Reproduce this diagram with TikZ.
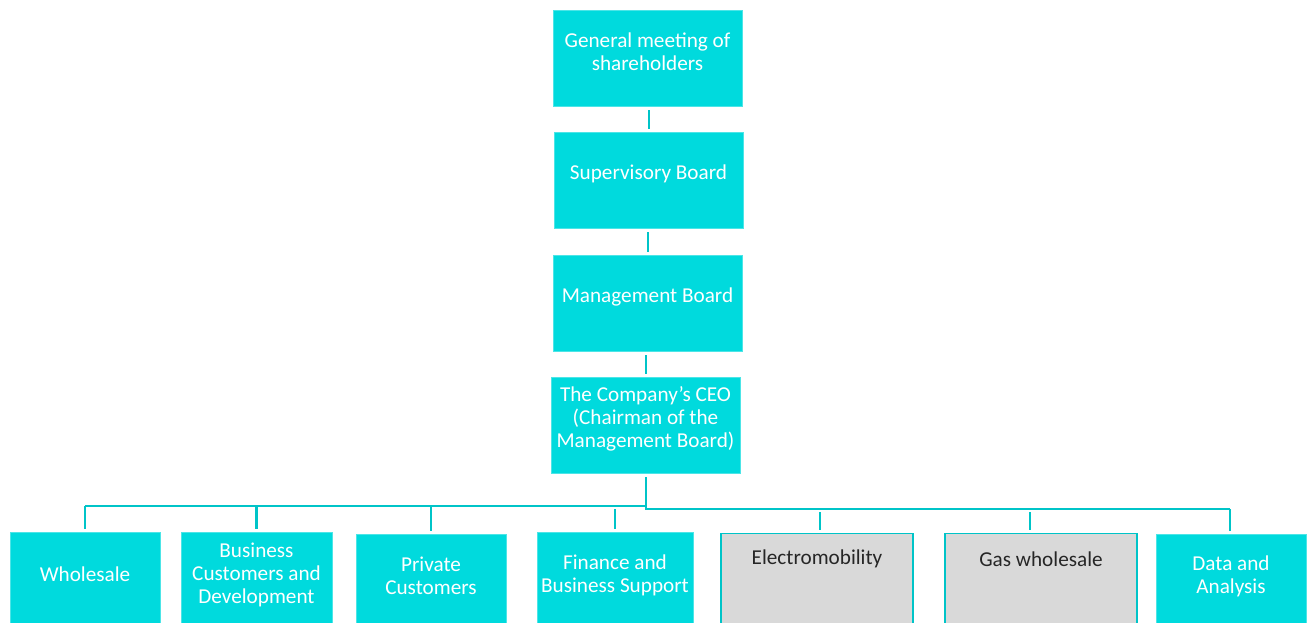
\documentclass[tikz,border=0pt]{standalone}
\usepackage{fontspec}
\setmainfont{Carlito}
\definecolor{cbox}{RGB}{0,218,221}
\definecolor{cline}{RGB}{0,196,200}
\definecolor{gbox}{RGB}{217,217,217}
\definecolor{gtext}{RGB}{38,38,38}
\tikzset{
  box/.style={rectangle, fill=cbox, draw=cbox!70!white, line width=0.8pt, inner sep=0pt, minimum height=96pt},
  graybox/.style={rectangle, fill=gbox, draw=cline, line width=1.3pt, inner sep=0pt, minimum height=110pt},
  lowbox/.style={box, minimum height=110pt},
  txt/.style={text=white, align=center, inner sep=0pt, font=\fontsize{21.2}{23.2}\selectfont},
  gtxt/.style={txt, text=gtext},
  conn/.style={draw=cline, line width=2.6pt},
}
\begin{document}
\begin{tikzpicture}[x=1pt,y=-1pt]
\path[use as bounding box] (0,0) rectangle (1308,623);
\clip (0,0) rectangle (1308,623);
% top chain
\node[box, minimum width=189pt] (gm) at (647.5,58) {};
\node[txt] (gmt) at (647.5,52) {General meeting of\\shareholders};
\node[box, minimum width=189pt] (sb) at (648.5,180) {};
\node[txt] (sbt) at (648.5,174) {Supervisory Board};
\node[box, minimum width=189pt] (mb) at (647.5,303) {};
\node[txt] (mbt) at (647.5,297) {Management Board};
\node[box, minimum width=189pt] (ceo) at (645.5,425) {};
\node[txt] (ceot) at (645.5,419) {The Company’s CEO\\(Chairman of the\\Management Board)};
% bottom row
\node[lowbox, anchor=north, minimum width=150pt] (wh) at (85,532) {};
\node[txt] (wht) at (85,574) {Wholesale};
\node[lowbox, anchor=north, minimum width=151pt] (bc) at (256.5,532) {};
\node[txt] (bct) at (256.5,575) {Business\\Customers and\\Development};
\node[lowbox, anchor=north, minimum width=150pt] (pc) at (431,534) {};
\node[txt] (pct) at (431,576) {Private\\Customers};
\node[lowbox, anchor=north, minimum width=156pt] (fb) at (615,532) {};
\node[txt] (fbt) at (615,575) {Finance and\\Business Support};
\node[graybox, anchor=north, minimum width=192pt] (em) at (817,533) {};
\node[gtxt] (emt) at (817,559) {Electromobility};
\node[graybox, anchor=north, minimum width=192pt] (gw) at (1041,533) {};
\node[gtxt] (gwt) at (1041,559) {Gas wholesale};
\node[lowbox, anchor=north, minimum width=150pt] (da) at (1231,534) {};
\node[txt] (dat) at (1231,576) {Data and\\Analysis};
% connectors
\draw[conn, shorten <=4pt, shorten >=3pt] ([xshift=1.5pt]gm.south) -- ([xshift=0.5pt]sb.north);
\draw[conn, shorten <=4pt, shorten >=3pt] ([xshift=-0.5pt]sb.south) -- ([xshift=0.5pt]mb.north);
\draw[conn, shorten <=4pt, shorten >=3pt] ([xshift=-1.5pt]mb.south) -- ([xshift=0.5pt]ceo.north);
\coordinate (busl) at (646,506);
\coordinate (busr) at (646,509);
\draw[conn, shorten <=4pt] ([xshift=0.5pt]ceo.south) -- ([yshift=-1.3pt]busr);
\draw[conn] (wh.north |- busl) -- (busl);
\draw[conn] (busr) -- ([xshift=-1pt]da.north |- busr);
\draw[conn, shorten >=3pt] (wh.north |- busl) -- (wh.north);
\draw[conn, shorten >=3pt] (bc.north |- busl) -- (bc.north);
\draw[conn, shorten >=3pt] (pc.north |- busl) -- (pc.north);
\draw[conn, shorten >=3pt] (fb.north |- busr) -- (fb.north);
\draw[conn, shorten <=3pt, shorten >=3pt] ([xshift=3pt]em.north |- busr) -- ([xshift=3pt]em.north);
\draw[conn, shorten <=3pt, shorten >=3pt] ([xshift=-11pt]gw.north |- busr) -- ([xshift=-11pt]gw.north);
\draw[conn, shorten >=3pt] ([xshift=-1pt]da.north |- busr) -- ([xshift=-1pt]da.north);
\end{tikzpicture}
\end{document}
